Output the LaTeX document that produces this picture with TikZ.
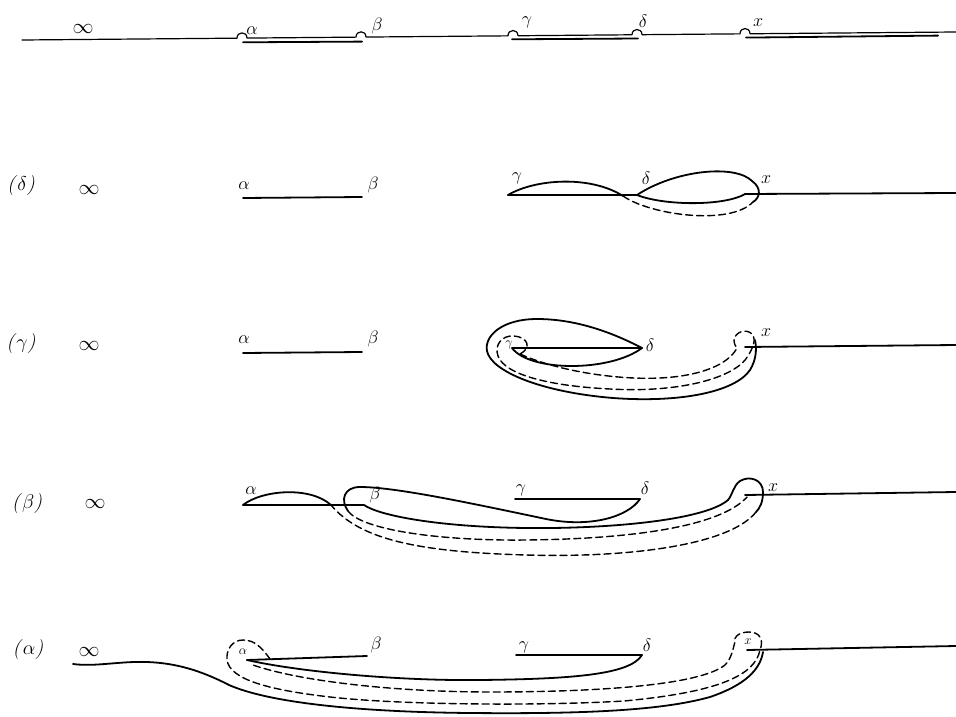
\RequirePackage{fix-cm}
\documentclass[tikz,border=0pt]{standalone}
\begin{document}
\begin{tikzpicture}[x=1pt,y=-1pt,line join=round,line cap=round]
\tikzset{
 lab/.style={inner sep=0pt,font=\fontsize{18}{20}\selectfont},
 inf/.style={inner sep=0pt,font=\fontsize{21}{24}\selectfont},
 rowlab/.style={inner sep=0pt,font=\fontsize{20}{24}\selectfont},
 tiny/.style={inner sep=0pt,font=\fontsize{13}{15}\selectfont},
 fine/.style={line width=1.2pt},
 heavy/.style={line width=1.8pt},
 dsh/.style={line width=1.4pt,dash pattern=on 7pt off 4pt},
}
\useasboundingbox (0,0) rectangle (956,717);

% ---------------- top row ----------------
\draw[fine] (22,40) -- (237,38.16) .. controls (237,31.2) and (247,31.1) .. (247,38.07)
  -- (356,37.14) .. controls (356,30.1) and (366,30) .. (366,37.05)
  -- (508,35.84) .. controls (508,28.8) and (518,28.7) .. (518,35.75)
  -- (632,34.78) .. controls (632,27.8) and (642,27.7) .. (642,34.69)
  -- (740,33.85) .. controls (740,26.8) and (750,26.7) .. (750,33.77) -- (956,32);
\draw[heavy] (243,42.3) -- (362,41.6);
\draw[heavy] (512,39.3) -- (638,38.5);
\draw[heavy] (746,37.6) -- (938,35.6);
\node[inf] (t0) at (83,29) {$\infty$};
\node[lab] (ta) at (252,31) {$\alpha$};
\node[lab] (tb) at (377,26) {$\beta$};
\node[lab] (tg) at (527,22) {$\gamma$};
\node[lab] (td) at (643,21) {$\delta$};
\node[lab] (tx) at (758,23) {$x$};

% ---------------- row (delta) ----------------
\node[rowlab] (rd) at (21,186) {\itshape(\/$\delta$\/)};
\node[inf] (d0) at (89,190) {$\infty$};
\node[lab] (da) at (244,186) {$\alpha$};
\node[lab] (db) at (373,185) {$\beta$};
\draw[heavy] (243,198) -- (362,197);
\coordinate (dG) at (508,195);
\coordinate (dC) at (623,196);
\coordinate (dD) at (637,195);
\coordinate (dX) at (745,194);
\coordinate (dR) at (753,202);
\node[lab] (dg) at (517,178) {$\gamma$};
\node[lab] (dd) at (646,178) {$\delta$};
\node[lab] (dx) at (766,180) {$x$};
\draw[heavy] (dG) -- (dD);
\draw[heavy] (dG) .. controls (535,179) and (590,175) .. (dC);
\draw[heavy] (dD) .. controls (675,170) and (735,164) .. (752,181) .. controls (762,188) and (760,198) .. (dR);
\draw[heavy] (dD) .. controls (665,206) and (725,206) .. (dX);
\draw[dsh] (dC) .. controls (650,215) and (730,226) .. (dR);
\draw[heavy] (dX) -- (956,193);

% ---------------- row (gamma) ----------------
\node[rowlab] (rg) at (21,344) {\itshape(\/$\gamma$\/)};
\node[inf] (g0) at (89,346) {$\infty$};
\node[lab] (ga) at (244,340) {$\alpha$};
\node[lab] (gb) at (373,339) {$\beta$};
\draw[heavy] (243,353) -- (362,352);
\coordinate (gG) at (512,348);
\coordinate (gD) at (642,348);
\coordinate (gX) at (745,347);
\node[tiny] (gg) at (509,345) {$\gamma$};
\node[lab] (gd) at (650,345) {$\delta$};
\node[lab] (gx) at (766,333) {$x$};
\draw[fine] (gG) -- (gD);
\draw[heavy] (gG) .. controls (530,372) and (610,372) .. (gD);
\draw[heavy] (gD) .. controls (600,326) and (565,319) .. (537,319) .. controls (502,319) and (484,336) .. (487,351)
  .. controls (491,371) and (540,392) .. (613,398) .. controls (680,403) and (735,392) .. (750,370)
  .. controls (756,360) and (757,350) .. (755,340);
\draw[dsh] (520,354) .. controls (532,348) and (528,337) .. (514,336) .. controls (502,335) and (494,345) .. (498,356)
  .. controls (505,375) and (550,386) .. (610,389) .. controls (680,393) and (735,378) .. (748,356)
  .. controls (752,349) and (757,340) .. (752,334) .. controls (746,328) and (735,332) .. (734,340)
  .. controls (734,344) and (736,347) .. (737,348)
  .. controls (728,365) and (700,376) .. (660,378) .. controls (620,380) and (560,372) .. (520,354);
\draw[heavy] (gX) -- (956,345);

% ---------------- row (beta) ----------------
\node[rowlab] (rb) at (27,504) {\itshape(\/$\beta$\/)};
\node[inf] (b0) at (95,504) {$\infty$};
\node[lab] (ba) at (251,491) {$\alpha$};
\node[lab] (bb) at (375,495) {$\beta$};
\node[lab] (bg) at (521,490) {$\gamma$};
\node[lab] (bd) at (645,488) {$\delta$};
\node[lab] (bx) at (773,488) {$x$};
\coordinate (bP) at (243,505);
\coordinate (bC) at (331,505);
\coordinate (bQ) at (364,505);
\coordinate (bG) at (515,499);
\coordinate (bD) at (640,499);
\coordinate (bX) at (745,495);
\coordinate (bL) at (348,511);
\coordinate (bR) at (756,512);
\draw[heavy] (bP) .. controls (262,490) and (310,486) .. (bC);
\draw[heavy] (bP) -- (bQ) .. controls (380,516) and (440,527) .. (526,528)
  .. controls (610,529) and (705,520) .. (728,500) .. controls (733,494) and (733,486) .. (740,481)
  .. controls (750,475) and (763,480) .. (763,492) .. controls (763,502) and (760,508) .. (bR);
\draw[dsh] (bR) .. controls (730,545) and (630,558) .. (526,555) .. controls (420,552) and (360,540) .. (bC);
\draw[heavy] (bL) .. controls (340,500) and (344,487) .. (360,487) .. controls (395,487) and (470,503) .. (546,519)
  .. controls (590,528) and (628,517) .. (bD);
\draw[dsh] (bL) .. controls (362,530) and (440,541) .. (526,540) .. controls (630,539) and (720,527) .. (747,497);
\draw[heavy] (bG) -- (bD);
\draw[heavy] (bX) -- (956,492);

% ---------------- row (alpha) ----------------
\node[rowlab] (ra) at (28,650) {\itshape(\/$\alpha$\/)};
\node[inf] (a0) at (89,652) {$\infty$};
\node[tiny] (aa) at (243,652) {$\alpha$};
\node[lab] (ab) at (376,645) {$\beta$};
\node[lab] (ag) at (524,647) {$\gamma$};
\node[lab] (ad) at (647,645) {$\delta$};
\node[tiny] (ax) at (748,642) {$x$};
\coordinate (aP) at (247,660);
\coordinate (aQ) at (367,656);
\coordinate (aG) at (516,655);
\coordinate (aD) at (642,655);
\coordinate (aX) at (747,650);
\draw[heavy] (73,664) .. controls (95,667) and (120,661) .. (147,662) .. controls (175,663) and (200,670) .. (229,685)
  .. controls (270,703) and (360,712) .. (470,713) .. controls (580,714) and (660,711) .. (710,697)
  .. controls (745,685) and (760,670) .. (763,652);
\draw[heavy] (aP) -- (aQ);
\draw[heavy] (aP) .. controls (300,672) and (400,681) .. (480,680) .. controls (570,679) and (630,675) .. (aD);
\draw[heavy] (aG) -- (aD);
\draw[dsh] (270,659) .. controls (262,648) and (255,640) .. (243,640) .. controls (232,640) and (226,650) .. (227,660)
  .. controls (230,680) and (270,690) .. (330,697) .. controls (400,705) and (540,706) .. (624,701)
  .. controls (720,692) and (755,675) .. (760,650) .. controls (764,640) and (760,632) .. (749,632)
  .. controls (738,632) and (733,638) .. (735,642) .. controls (733,648) and (732,658) .. (725,665)
  .. controls (700,685) and (600,692) .. (490,692) .. controls (400,692) and (300,682) .. (250,664);
\draw[heavy] (aX) -- (956,646);
\end{tikzpicture}
\end{document}
